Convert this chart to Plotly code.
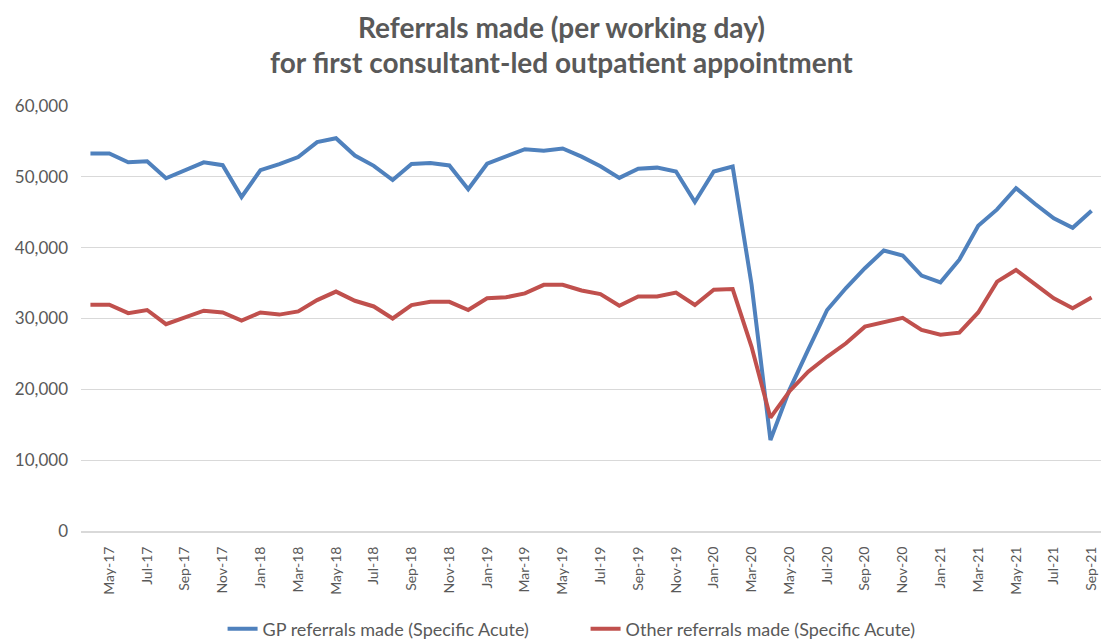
import plotly.graph_objects as go

months = [
    "Apr-17", "May-17", "Jun-17", "Jul-17", "Aug-17", "Sep-17", "Oct-17", "Nov-17", "Dec-17",
    "Jan-18", "Feb-18", "Mar-18", "Apr-18", "May-18", "Jun-18", "Jul-18", "Aug-18", "Sep-18",
    "Oct-18", "Nov-18", "Dec-18", "Jan-19", "Feb-19", "Mar-19", "Apr-19", "May-19", "Jun-19",
    "Jul-19", "Aug-19", "Sep-19", "Oct-19", "Nov-19", "Dec-19", "Jan-20", "Feb-20", "Mar-20",
    "Apr-20", "May-20", "Jun-20", "Jul-20", "Aug-20", "Sep-20", "Oct-20", "Nov-20", "Dec-20",
    "Jan-21", "Feb-21", "Mar-21", "Apr-21", "May-21", "Jun-21", "Jul-21", "Aug-21", "Sep-21",
]

gp_referrals = [
    53300, 53300, 52050, 52200, 49800, 50850, 52050, 51650, 47150,
    50950, 51800, 52800, 54900, 55450, 53000, 51550, 49550, 51800,
    51950, 51600, 48250, 51850, 52850, 53900, 53700, 54000, 52850,
    51500, 49850, 51150, 51300, 50750, 46450, 50750, 51450, 34800,
    12850, 19900, 25600, 31200, 34300, 37100, 39600, 38900, 36050,
    35100, 38300, 43100, 45400, 48400, 46200, 44150, 42800, 45200,
]

other_referrals = [
    31950, 31950, 30750, 31200, 29200, 30100, 31100, 30850, 29700,
    30850, 30550, 31000, 32600, 33800, 32500, 31700, 30000, 31900,
    32350, 32350, 31200, 32850, 33000, 33550, 34750, 34750, 33950,
    33450, 31800, 33100, 33100, 33650, 31900, 34050, 34150, 26000,
    16000, 19700, 22500, 24600, 26500, 28850, 29450, 30100, 28400,
    27700, 28000, 30850, 35200, 36850, 34850, 32850, 31450, 32950,
]

tick_labels = months[1::2]
y_ticks = [0, 10000, 20000, 30000, 40000, 50000, 60000]
y_tick_text = ["0", "10,000", "20,000", "30,000", "40,000", "50,000", "60,000"]

series_names = ["GP referrals made (Specific Acute)", "Other referrals made (Specific Acute)"]
title_lines = ["Referrals made (per working day)", "for first consultant-led outpatient appointment"]

FONT = "Lato"
GREY = "#595959"

fig = go.Figure()
fig.add_trace(go.Scatter(x=months, y=gp_referrals, mode="lines", name=series_names[0],
                         line=dict(color="#4F81BD", width=4)))
fig.add_trace(go.Scatter(x=months, y=other_referrals, mode="lines", name=series_names[1],
                         line=dict(color="#C0504D", width=4)))

fig.update_layout(
    width=1104, height=643,
    margin=dict(l=81, r=3, t=106, b=112, autoexpand=False),
    paper_bgcolor="white", plot_bgcolor="white",
    font=dict(family=FONT, color=GREY, size=15),
    showlegend=True,
    legend=dict(orientation="h", x=0.1388, xanchor="left", y=-0.2306, yanchor="middle",
                font=dict(size=18, color=GREY), entrywidth=318, traceorder="normal"),
    annotations=[
        dict(text="<b>" + title_lines[0] + "</b>", x=0.4706, xref="paper",
             xanchor="center", y=(531 - 27) / 425, yref="paper", yanchor="middle", showarrow=False,
             font=dict(size=28, color=GREY, family=FONT)),
        dict(text="<b>" + title_lines[1] + "</b>", x=0.4706, xref="paper",
             xanchor="center", y=(531 - 62) / 425, yref="paper", yanchor="middle", showarrow=False,
             font=dict(size=28, color=GREY, family=FONT)),
    ],
)

fig.update_xaxes(type="category", categoryorder="array", categoryarray=months,
                 range=[-0.5, len(months) - 0.5], automargin=False,
                 tickmode="array", tickvals=tick_labels, ticktext=tick_labels,
                 tickangle=-90, ticks="", showgrid=False,
                 showline=True, linecolor="#D9D9D9", linewidth=2,
                 tickfont=dict(size=14, color=GREY), ticklabelstandoff=8)
fig.update_yaxes(range=[0, 60000], tickmode="array", tickvals=y_ticks, ticktext=y_tick_text,
                 automargin=False,
                 showgrid=True, gridcolor="#D9D9D9", gridwidth=1, zeroline=False,
                 ticks="", showline=False, tickfont=dict(size=17, color=GREY),
                 ticklabelstandoff=12)

fig.write_html("out.html", config={"displayModeBar": False},
               post_script="document.body.style.margin='0';")
